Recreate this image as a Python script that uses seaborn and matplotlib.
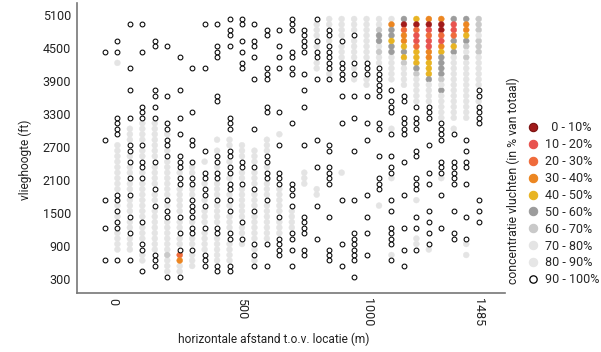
import numpy as np
import pandas as pd
import matplotlib
matplotlib.use('Agg')
import matplotlib.pyplot as plt
import seaborn as sns
from matplotlib.lines import Line2D

########### Gegevens ############
# klassen van de concentratie vluchten
klassen = ['  0 - 10%', '10 - 20%', '20 - 30%', '30 - 40%', '40 - 50%',
           '50 - 60%', '60 - 70%', '70 - 80%', '80 - 90%', '90 - 100%']
kleuren = ['#A11B1B', '#E8534F', '#EF6B3B', '#EC8621', '#E8B423',
           '#9C9C9C', '#C9C9C9', '#E4E4E4', '#E6E6E6', '#FFFFFF']

# vlieghoogte per rij (ft), rij 0 = bovenste rij
hoogtes = [5030 - 100 * i for i in range(48)]

# per kolom (horizontale afstand, links -> rechts): "klasse:rijen"
kolommen = [
    "9:6,22,33,38,44",
    "9:4,6,18-21,32,33,35,37,38,44 7:8,23-31,34,36,39-42",
    "9:1,9,13,18,23,24,26,29,32,36,39,44 7:20-22,25,27,28,30,31,33-35,37,38,40-42",
    "9:1,6,16-18,23,26,27,29,37,41,42,46 7:19-22,24,25,28,30-36,38-40,43,44",
    "9:4,5,13,14,16,18,26,31,34,43-45 7:19-25,27-30,32,33,35-42",
    "9:5,14,19,20,22,23,25,33,35,36,47 7:21,24,26-32,34,37-42,44-46 6:43",
    "9:7,13,18,21,25-27,29,30,36,39,42,47 7:28,31-35,37,38,40,41,45,46 2:43 3:44",
    "9:9,17,22,23,26,29,30,33-36,38,39,42 7:27,28,31,32,37,40,41,43-45",
    "9:1,9,24,28,29,31,32,34,38,43-45 7:26,30,33,35-37,39-42",
    "9:1,5-7,14,15,25,26,28,29,33,38,39,45,46 7:22,24,27,30-32,34-37,40-44",
    "9:0,2,3,5,18-20,24,25,27,28,30,31,33,35,39,40,45,46 7:22,23,26,29,32,34,36-38,41-44",
    "9:0,1,4,6,8,9,26,27,30,37,40 7:23-25,28,29,31-36,38,39,41",
    "9:1,4,5,7,11,20,27,31,35,41,43,45 7:24-26,28-30,32-34,36-40,42,44",
    "9:2,3,9-11,16,17,25,26,28,29,33,41,45 7:22-24,27,30-32,34-40",
    "9:2,5,7,9,17,23,28-30,36,40-43 7:21,31-35,37-39",
    "9:0-2,6,7,9,10,19,30-32,34,39,40,42,45 7:35-38",
    "9:2-6,10,13,16,23,36-39,42,43 7:28-30",
    "9:0,4,6,7,11,22,27,34,40 7:1-3,5,8,9,31,32",
    "9:2,3,5-9,11,23,24,27-30,36,42-44 7:0,1,4,10",
    "9:4,8-11,14,19,33,41,45 7:0-3,5-7,28",
    "9:3,8,10,14,18,24,33,39-44,47 7:0-2,4-7,9,11",
    "9:8-10,14,19,22,32,36,39,43 7:0-7,11,12",
    "9:9-14,19,20,25,29-31 7:0,1,5,7,8,34 6:2,6 5:3,4",
    "9:13,15-17,21,25,27,28,33,35,38-41,44 7:0,7-11,20,29,43 3:1 5:2,3,5,6 4:4",
    "9:14,15,18-21,26,32,38,42,45 5:0,6 0:1 2:2 3:3,4 4:5,7 6:8 7:9-12",
    "9:16,18-20,24,25,29-31,36,38,42 4:0,6-8 0:1 2:2,5 1:3,4 5:9 6:10 7:11-15,33,40,41",
    "9:16-18,23,28,30,35,37,39,41 3:0,6,7 0:1 1:2,4,5 2:3 4:8-10 5:11 7:12-15,42",
    "9:19-22,26-28,32,38 3:0,5 0:1,2 2:3 1:4 4:6 5:7-10,13 6:11 7:12,14-18,29",
    "9:21,26-30,35,39,40 5:0,4,6 1:1,2 2:3 4:5 7:7-18,20",
    "9:22,24,26,27,30,36,40 5:0,4 3:1,2 4:3 6:5,7 7:6,8-18,41,43",
    "9:13,14,16-19,33,35,37 6:0-2,4-6 7:3,7-12,15",
]

x_ticks = [0.62, 11, 21.1, 30]
x_labels = ['0', '500', '1000', '1485']
y_ticks = [300, 900, 1500, 2100, 2700, 3300, 3900, 4500, 5100]


def uitpakken(spec):
    cellen = {}
    for deel in spec.split():
        klasse, rijen = deel.split(':')
        for r in rijen.split(','):
            if '-' in r:
                a, b = map(int, r.split('-'))
                for i in range(a, b + 1):
                    cellen[i] = int(klasse)
            else:
                cellen[int(r)] = int(klasse)
    return cellen


rijen = []
for k, spec in enumerate(kolommen):
    for r, c in uitpakken(spec).items():
        rijen.append({'afstand': k, 'hoogte': hoogtes[r], 'klasse': klassen[c]})
df = pd.DataFrame(rijen)

############ Grafiek ############
sns.set_style('white')
plt.rcParams['font.family'] = ['Roboto', 'DejaVu Sans']
fig = plt.figure(figsize=(6.01, 3.52), dpi=100)
ax = fig.add_axes([0.128, 0.168, 0.712, 0.823])

gevuld = df[df.klasse != klassen[9]]
open_ = df[df.klasse == klassen[9]]
sns.scatterplot(data=gevuld, x='afstand', y='hoogte', hue='klasse', hue_order=klassen[:9],
                palette=kleuren[:9], s=18, linewidth=0.3, edgecolor='face', legend=False, ax=ax)
sns.scatterplot(data=open_, x='afstand', y='hoogte', color='white', edgecolor='black',
                s=12, linewidth=0.75, legend=False, ax=ax)

ax.set_xlim(-2.25, 32.1)
ax.set_ylim(40, 5318)
ax.set_xticks(x_ticks)
ax.set_xticklabels(x_labels, rotation=-90, fontsize=9, color='#222222')
ax.set_yticks(y_ticks)
ax.set_yticklabels([str(v) for v in y_ticks], fontsize=9, color='#222222')
ax.tick_params(length=0)
ax.tick_params(axis='y', pad=4.3)
ax.tick_params(axis='x', pad=3.6)
sns.despine(ax=ax)
for s in ['left', 'bottom']:
    ax.spines[s].set_color('#777777')
    ax.spines[s].set_linewidth(1.2)

ax.set_xlabel('horizontale afstand t.o.v. locatie (m)', fontsize=8.6, color='#222222')
ax.set_ylabel('vlieghoogte (ft)', fontsize=8.6, color='#222222')
ax.xaxis.set_label_coords(0.459, -0.162)
ax.xaxis.label.set_va('center')
ax.yaxis.set_label_coords(-0.121, 0.459)
ax.yaxis.label.set_va('center')

handles = []
for i, c in enumerate(kleuren):
    if i == 9:
        handles.append(Line2D([], [], marker='o', ls='', markersize=5.3, markerfacecolor='white',
                              markeredgecolor='black', markeredgewidth=0.9))
    else:
        rand = '#7A1010' if i == 0 else c
        handles.append(Line2D([], [], marker='o', ls='', markersize=6, markerfacecolor=c,
                              markeredgecolor=rand, markeredgewidth=0.8))
fig.legend(handles, klassen, loc='upper left', bbox_to_anchor=(0.8765, 0.655),
           frameon=False, handlelength=1, handletextpad=0.46, labelspacing=0.31,
           borderpad=0, borderaxespad=0, prop={'size': 9})
fig.text(513 / 601, 1 - 181 / 352, 'concentratie vluchten (in % van totaal)', rotation=90,
         ha='center', va='center', fontsize=8.8, color='#222222')

plt.savefig('out.png', dpi=100)
